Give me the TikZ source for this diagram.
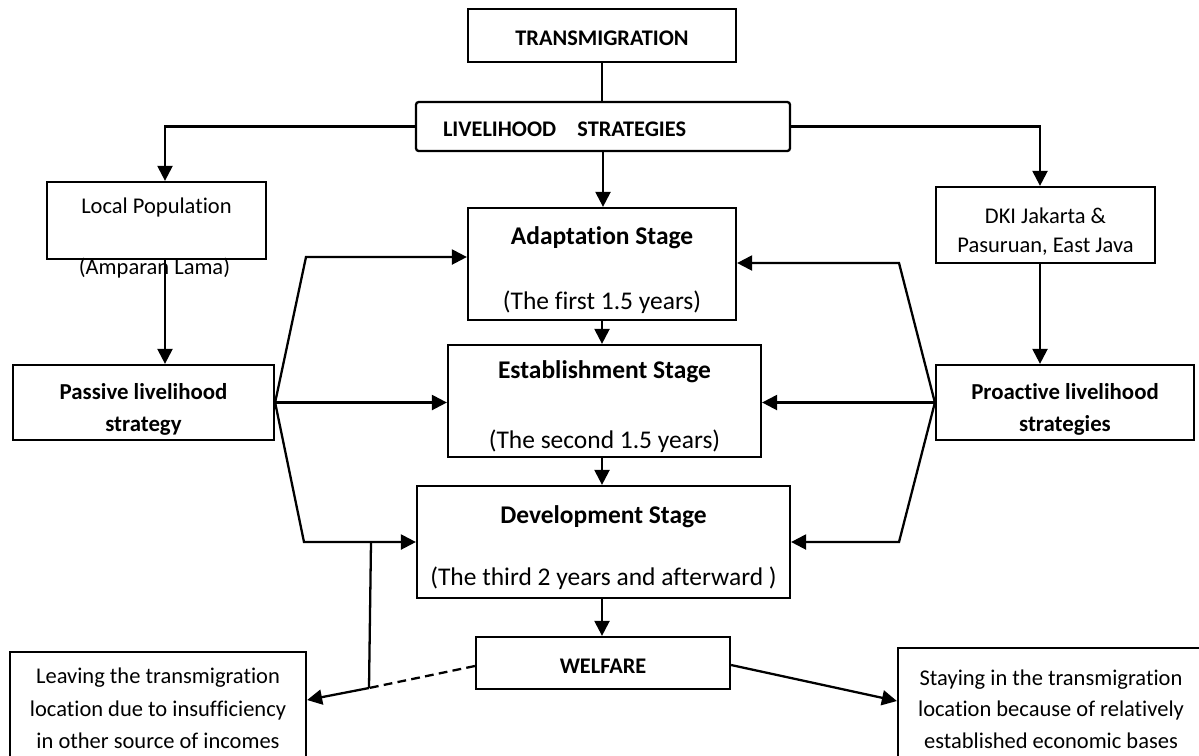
\documentclass[tikz,border=0pt]{standalone}
\usepackage{fontspec}
\setmainfont{Carlito}[Ligatures={NoCommon,NoContextual}]
\usetikzlibrary{arrows.meta, positioning, calc}
\newcommand{\tpad}[1]{\rule{0pt}{#1}}

\begin{document}
\begin{tikzpicture}[
    x=0.02cm, y=-0.02cm,
    line width=1.3pt,
    every node/.style={font=\fontsize{12.8}{17}\selectfont},
    box/.style={draw, line width=1.3pt, align=center, inner sep=0pt},
    head/.style={box, font=\bfseries\fontsize{12.7}{15}\selectfont},
    stage/.style={box, minimum height=2.24cm, font=\fontsize{14.5}{17.4}\selectfont},
    strat/.style={box, minimum height=1.5cm, font=\bfseries\fontsize{13}{18.2}\selectfont},
    arr/.style={-{Triangle[length=0.3cm, width=0.3cm]}}
]
\path[use as bounding box, clip] (0,0) rectangle (1199,755);

%% Top
\node[head, minimum width=5.36cm, minimum height=1.06cm] (trans) at (602,35.5) {\tpad{11.6pt}TRANSMIGRATION};
\node[head, rounded corners=1.5pt, minimum width=7.48cm, minimum height=0.98cm,
      text width=6.4cm, align=left, inner xsep=0.54cm] (live) at (603,126.5)
      {\tpad{11.6pt}LIVELIHOOD\hspace{0.95em}STRATEGIES};

%% Origins of the population
\node[box, minimum width=4.38cm, minimum height=1.54cm] (local) at (156.5,220.5) {};
\node (localname) at (156.5,207) {Local Population};
\node (amparan) at (154.5,268) {(Amparan Lama)};
\node[box, minimum width=4.38cm, minimum height=1.52cm] (dki) at (1045.5,225)
      {\tpad{16.4pt}DKI Jakarta \&\\Pasuruan, East Java};

%% Strategies
\node[strat, minimum width=5.22cm] (passive) at (143.5,402.5) {\tpad{16.6pt}Passive livelihood\\strategy};
\node[strat, minimum width=5.16cm] (proact) at (1065,402.5) {\tpad{16.6pt}Proactive livelihood\\strategies};

%% Stages
\node[stage, minimum width=5.36cm] (adapt) at (602,264)
      {\tpad{16.6pt}\textbf{Adaptation Stage}\\[19.6pt](The first 1.5 years)};
\node[stage, minimum width=6.26cm] (estab) at (604.5,401)
      {\tpad{16.6pt}\textbf{Establishment Stage}\\[22.6pt](The second 1.5 years)};
\node[stage, minimum width=7.46cm] (devel) at (603.5,542)
      {\tpad{16.6pt}\textbf{Development Stage}\\[17.6pt](The third 2 years and afterward )};
\node[head, minimum width=5.08cm, minimum height=1.04cm] (welfare) at (603,663) {\tpad{11.6pt}WELFARE};

%% Outcomes
\node[box, minimum width=5.92cm, minimum height=2.26cm, font=\fontsize{12.8}{18.5}\selectfont] (leave) at (158,708.5)
      {Leaving the transmigration\\location due to insufficiency\\in other source of incomes};
\node[box, minimum width=6.12cm, minimum height=2.34cm, font=\fontsize{12.8}{17.9}\selectfont] (stay) at (1051,706.5)
      {\tpad{12pt}Staying in the transmigration\\location because of relatively\\established economic bases};

%% Helper points
\coordinate (lcol) at (165,0);
\coordinate (rcol) at (1040,0);
\coordinate (pa) at (306,257);
\coordinate (pd) at (304,542);
\coordinate (qa) at (899,263);
\coordinate (qd) at (899,542);
\coordinate (lv) at (371,542);
\coordinate (lk) at (369,688);

%% Arrows
\draw (trans.south) -- (live.north -| trans.south);
\draw[arr] (live.west) -| (local.north -| lcol);
\draw[arr] (live.east) -| (dki.north -| rcol);
\draw[arr] (live.south) -- (adapt.north -| live.south);
\draw[arr] (local.south -| lcol) -- (passive.north -| lcol);
\draw[arr] (dki.south -| rcol) -- (proact.north -| rcol);
\draw[arr] (adapt.south) -- (estab.north -| adapt.south);
\draw[arr] (estab.south -| adapt.south) -- (devel.north -| adapt.south);
\draw[arr] (devel.south -| adapt.south) -- (welfare.north -| adapt.south);

\draw[arr] (passive.east) -- (pa) -- (pa -| adapt.west);
\draw[arr] (passive.east) -- (passive.east -| estab.west);
\draw[arr] (passive.east) -- (pd) -- (pd -| devel.west);
\draw[arr] (proact.west) -- (qa) -- (qa -| adapt.east);
\draw[arr] (proact.west) -- (proact.west -| estab.east);
\draw[arr] (proact.west) -- (qd) -- (qd -| devel.east);

\draw (lv) -- (lk);
\draw[dash pattern=on 5pt off 3pt] ($(welfare.west)+(0,3)$) -- (lk);
\draw[arr] (lk) -- ($(leave.east)+(0,-8.5)$);
\draw[arr] ($(welfare.east)+(0,2)$) -- ($(stay.west)+(0,-5.5)$);
\end{tikzpicture}
\end{document}
